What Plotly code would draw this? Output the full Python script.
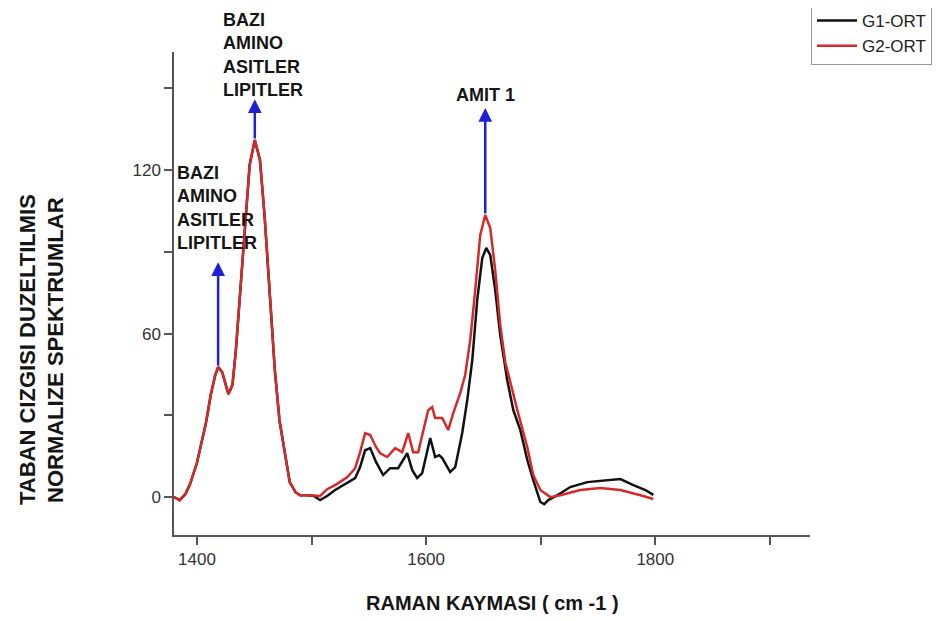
import plotly.graph_objects as go

# shared part of both spectra (identical below ~1508 cm-1)
shared_x = [1380, 1385, 1390, 1394, 1400, 1404, 1408, 1412, 1416, 1418.5, 1422, 1427.5, 1431, 1434,
            1438, 1442, 1446, 1450.5, 1455, 1459, 1464, 1468, 1472, 1477, 1481, 1486, 1490, 1496, 1502]
shared_y = [0, -1.1, 1.1, 4.8, 12.5, 20.2, 27.5, 37.4, 44.8, 47.7, 45.9, 37.8, 41.1, 53.9,
            76.0, 99.8, 121.8, 131.0, 123.7, 103.5, 72.3, 46.6, 28.3, 15.4, 5.5, 1.8, 0.7, 0.7, 0.4]

g1_x_tail = [1507.5, 1513.6, 1520.6, 1531.1, 1538.1, 1542.4, 1546.8, 1551.2, 1556.4, 1562.5, 1568.6,
             1575.6, 1580.0, 1583.5, 1587.9, 1592.2, 1596.6, 1600.1, 1603.6, 1607.9, 1611.4, 1614.1,
             1621.0, 1625.4, 1631.5, 1635.9, 1640.3, 1644.6, 1649.0, 1652.5, 1656.0, 1660.3, 1664.7,
             1670.8, 1676.1, 1682.2, 1688.3, 1693.5, 1699.7, 1703.1, 1706.6, 1714.5, 1725.8, 1740.7,
             1758.2, 1769.5, 1780.9, 1791.4, 1798.3]
g1_y_tail = [-1.1, 0.4, 2.6, 5.1, 7.0, 11.0, 17.2, 18.0, 12.8, 8.1, 10.6,
             10.6, 13.6, 16.1, 9.9, 7.0, 8.8, 15.4, 21.7, 14.7, 15.4, 14.3,
             9.2, 11.0, 23.5, 35.6, 50.3, 72.3, 87.7, 91.4, 88.8, 76.0, 59.4,
             42.9, 31.9, 24.6, 13.6, 6.2, -1.8, -2.6, -1.1, 0.7, 3.7, 5.5,
             6.2, 6.6, 4.4, 2.6, 0.8]

g2_x_tail = [1507.5, 1513.6, 1520.6, 1531.1, 1538.1, 1542.4, 1546.8, 1551.2, 1556.4, 1559.9, 1566.0,
             1573.0, 1579.1, 1584.4, 1588.7, 1593.1, 1597.5, 1601.8, 1605.3, 1607.9, 1614.1, 1619.3,
             1623.7, 1629.8, 1634.1, 1638.5, 1642.9, 1647.2, 1651.6, 1656.0, 1660.3, 1664.7, 1669.1,
             1673.4, 1679.6, 1688.3, 1693.5, 1699.7, 1708.4, 1717.1, 1734.6, 1752.0, 1769.5, 1787.0,
             1798.3]
g2_y_tail = [0.4, 2.9, 4.4, 7.3, 10.6, 16.5, 23.5, 22.8, 18.3, 16.1, 14.7,
             18.0, 16.5, 23.5, 16.5, 16.5, 23.9, 31.9, 33.0, 29.0, 29.0, 24.6,
             30.8, 38.2, 44.8, 57.6, 76.0, 96.1, 103.5, 98.7, 83.3, 63.1, 49.5,
             42.2, 31.9, 18.3, 8.1, 2.6, 0.0, 0.7, 2.6, 3.3, 2.6, 0.7,
             -0.7]

series_names = ["G1-ORT", "G2-ORT"]
series_colors = ["#111111", "#d42a2a"]

# arrow annotations: (x, tail y, head y)
arrow_x = [1418.5, 1450.5, 1651.6]
arrow_tail = [47.7, 131.0, 103.5]
arrow_head = [86.2, 146.0, 142.8]

label_texts = ["BAZI<br>AMINO<br>ASITLER<br>LIPITLER", "BAZI<br>AMINO<br>ASITLER<br>LIPITLER", "AMIT 1"]
label_x = [1421.0, 1380.9, 1651.6]
label_y = [162.3, 106.2, 147.5]
label_anchor = ["left", "left", "center"]

x_title = "RAMAN KAYMASI ( cm -1 )"
y_title_lines = ["TABAN CIZGISI DUZELTILMIS", "NORMALIZE SPEKTRUMLAR"]

# page body has an 8px margin; screen positions = figure positions + 8
OFF = 8
W, H = 940 - OFF, 621 - OFF
L, T = 174 - OFF, 52 - OFF
pw, ph = 636, 483
R, B = W - L - pw, H - T - ph
Y0, Y1 = -13.9, 163.3


def px_x(sx):
    return (sx - OFF - L) / pw


def px_y(sy):
    return (T + ph - (sy - OFF)) / ph


g1_x = shared_x + g1_x_tail
g1_y = shared_y + g1_y_tail
g2_x = shared_x + g2_x_tail
g2_y = list(shared_y) + g2_y_tail

fig = go.Figure()
fig.add_trace(go.Scatter(x=g1_x, y=g1_y, mode="lines", name=series_names[0],
                         line=dict(color=series_colors[0], width=2.5)))
fig.add_trace(go.Scatter(x=g2_x, y=g2_y, mode="lines", name=series_names[1],
                         line=dict(color=series_colors[1], width=2.5)))

font_lbl = dict(family="Arial, Liberation Sans", size=18, color="#151515")
annotations = []
for ax_, t, h in zip(arrow_x, arrow_tail, arrow_head):
    annotations.append(dict(x=ax_, y=h, ax=ax_, ay=t, xref="x", yref="y", axref="x", ayref="y",
                            text="", showarrow=True, arrowhead=2, arrowsize=1.1,
                            arrowwidth=2.5, arrowcolor="#1f1fd6"))
for txt, lx, ly, anc in zip(label_texts, label_x, label_y, label_anchor):
    annotations.append(dict(x=lx, y=(ly - Y0) / (Y1 - Y0), xref="x", yref="paper",
                            text="<b>" + txt + "</b>",
                            showarrow=False, xanchor=anc, yanchor="middle", align="left",
                            font=font_lbl))
for line, sx in zip(y_title_lines, [27, 55]):
    annotations.append(dict(x=px_x(sx), y=px_y(350), xref="paper", yref="paper",
                            text="<b>" + line + "</b>",
                            showarrow=False, textangle=-90, xanchor="center", yanchor="middle",
                            font=dict(family="Arial, Liberation Sans", size=22, color="#151515")))
annotations.append(dict(x=px_x(492), y=px_y(603), xref="paper", yref="paper",
                        text="<b>" + x_title + "</b>", showarrow=False,
                        xanchor="center", yanchor="middle",
                        font=dict(family="Arial, Liberation Sans", size=20, color="#151515")))

axis_common = dict(showline=True, linecolor="#555555", linewidth=1.5, ticks="outside",
                   ticklen=8, tickwidth=1.5, tickcolor="#555555", showgrid=False, zeroline=False,
                   tickfont=dict(family="Arial, Liberation Sans", size=17, color="#333333"))

fig.update_layout(
    width=W, height=H,
    margin=dict(l=L, r=R, t=T, b=B, autoexpand=False),
    paper_bgcolor="white", plot_bgcolor="white",
    xaxis=dict(range=[1380, 1935], tick0=1400, dtick=200,
               minor=dict(ticks="outside", ticklen=8, tickwidth=1.5, tickcolor="#555555",
                          dtick=100, tick0=1400, showgrid=False),
               **axis_common),
    yaxis=dict(range=[Y0, Y1], tick0=0, dtick=60,
               minor=dict(ticks="outside", ticklen=8, tickwidth=1.5, tickcolor="#555555",
                          dtick=30, tick0=0, showgrid=False),
               **axis_common),
    showlegend=True,
    legend=dict(x=px_x(811), y=px_y(2), xanchor="left", yanchor="top",
                bordercolor="#999999", borderwidth=1, bgcolor="white",
                font=dict(family="Arial, Liberation Sans", size=17, color="#222222"),
                itemwidth=40, tracegroupgap=0),
    annotations=annotations,
)

fig.write_html("out.html")
